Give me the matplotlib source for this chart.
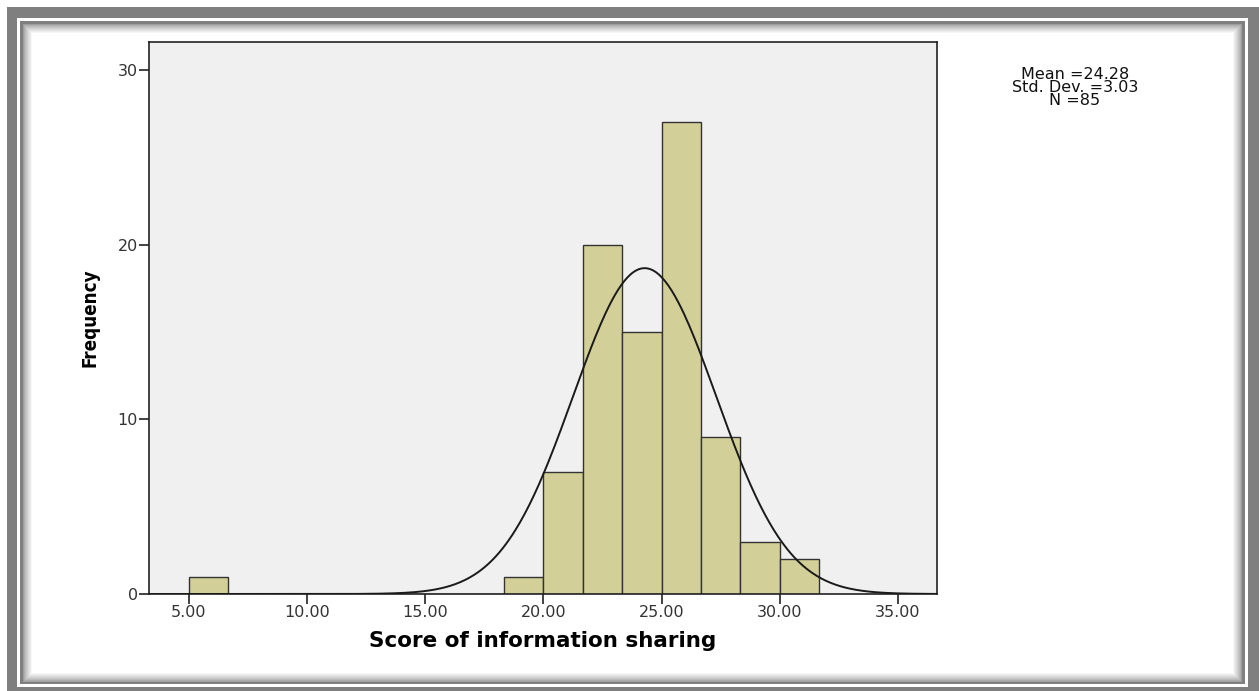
import matplotlib.pyplot as plt
import numpy as np

# histogram data (SPSS output)
bin_edges = [5.0, 6.6667, 8.3333, 10.0, 11.6667, 13.3333, 15.0, 16.6667, 18.3333,
             20.0, 21.6667, 23.3333, 25.0, 26.6667, 28.3333, 30.0, 31.6667]
counts = [1, 0, 0, 0, 0, 0, 0, 0, 1, 7, 20, 15, 27, 9, 3, 2]
mean = 24.28
std = 3.03
n = 85

x_ticks = [5, 10, 15, 20, 25, 30, 35]
y_ticks = [0, 10, 20, 30]

W, H = 1259, 691
fig = plt.figure(figsize=(W / 100, H / 100), dpi=100)

# frame drawn as a background image
bg = np.ones((H, W, 3))
gray = 0.5
bg[7:, 7:] = gray
bg[18:687, 17:1248] = 1.0
bg[21:684, 20:1245] = gray
bg[24:682, 23:1242] = 1.0
# inner shadow
for k in range(10):
    v = 0.62 + 0.38 * (k / 9.0) ** 0.8
    y0, y1, x0, x1 = 24 + k, 682 - k, 23 + k, 1242 - k
    bg[y0, x0:x1] = np.minimum(bg[y0, x0:x1], v)
    bg[y1 - 1, x0:x1] = np.minimum(bg[y1 - 1, x0:x1], v)
    bg[y0:y1, x0] = np.minimum(bg[y0:y1, x0], v)
    bg[y0:y1, x1 - 1] = np.minimum(bg[y0:y1, x1 - 1], v)
bga = fig.add_axes([0, 0, 1, 1])
bga.imshow(bg, aspect="auto", interpolation="nearest")
bga.axis("off")

ax = fig.add_axes([149 / W, 1 - 594 / H, (937 - 149) / W, (594 - 42) / H])
ax.set_facecolor("#f0f0f0")

widths = np.diff(bin_edges)
ax.bar(bin_edges[:-1], counts, width=widths, align="edge",
       color="#d3cf98", edgecolor="#333333", linewidth=1.0, zorder=2)

xlim = (3.31, 36.65)
xs = np.linspace(xlim[0], xlim[1], 500)
bw = widths[0]
ys = n * bw / (std * np.sqrt(2 * np.pi)) * np.exp(-0.5 * ((xs - mean) / std) ** 2)
ax.plot(xs, ys, color="#1a1a1a", linewidth=1.4, zorder=3)

ax.set_xlim(*xlim)
ax.set_ylim(0, 31.6)
ax.set_xticks(x_ticks)
ax.set_xticklabels(["%.2f" % t for t in x_ticks])
ax.set_yticks(y_ticks)
ax.tick_params(direction="out", length=7, width=1.2, color="#222222",
               labelsize=11.5, pad=1, labelcolor="#333333")
for lab in ax.get_xticklabels() + ax.get_yticklabels():
    lab.set_family(["DejaVu Sans"])
for sp in ax.spines.values():
    sp.set_linewidth(1.2)
    sp.set_color("#222222")

ax.set_xlabel("Score of information sharing", fontsize=15.5, fontweight="bold",
              family=["DejaVu Sans"], labelpad=8)
ax.set_ylabel("Frequency", fontsize=13.5, fontweight="bold", fontstretch="condensed",
              family=["DejaVu Sans"], labelpad=13)

fig.text(1075 / W, 1 - 67 / H, "Mean =%.2f\nStd. Dev. =%.2f\nN =%d" % (mean, std, n),
         ha="center", va="top", fontsize=11.5, linespacing=0.85,
         family=["DejaVu Sans"], color="#111111")

fig.savefig("out.png", dpi=100)
